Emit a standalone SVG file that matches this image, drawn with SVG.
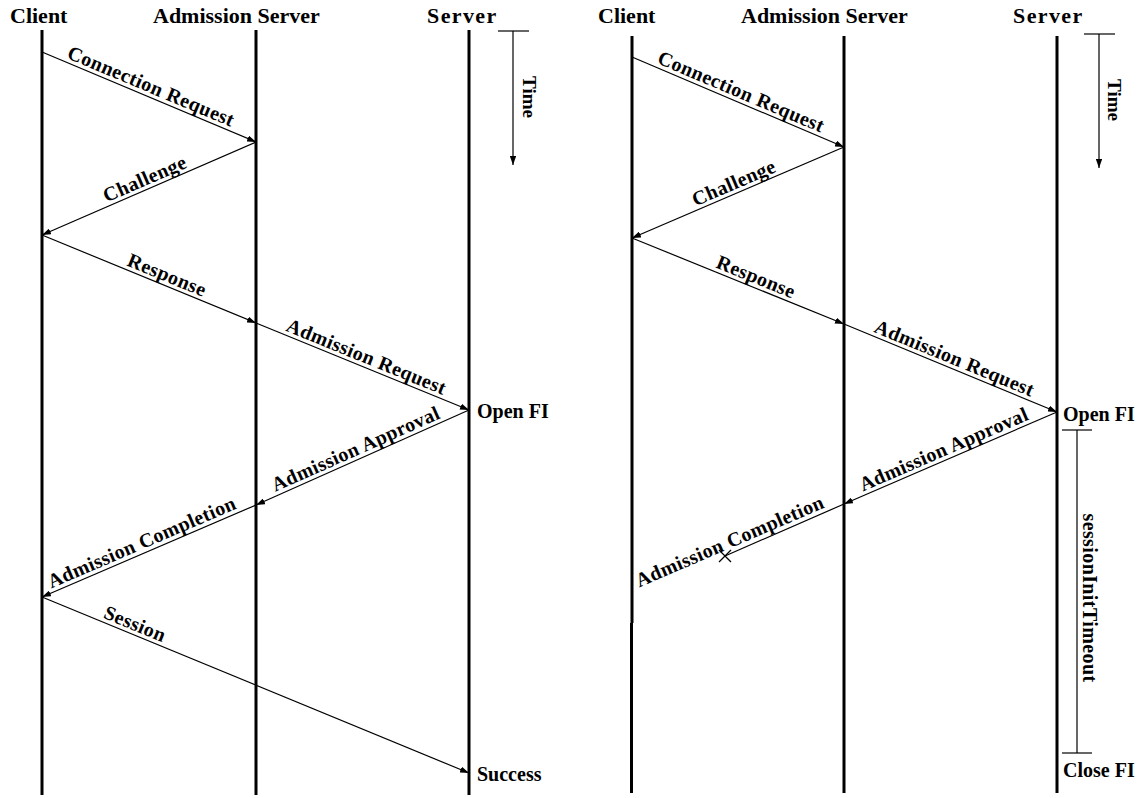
<svg xmlns="http://www.w3.org/2000/svg" width="1145" height="798" viewBox="0 0 1145 798">
  <style>
    .title { font-family: "Liberation Serif", "Times New Roman", serif; font-weight: bold; font-size: 22px; fill: #000; }
    .wide { letter-spacing: 1.4px; }
    .lbl { font-family: "Liberation Serif", "Times New Roman", serif; font-weight: bold; font-size: 20px; letter-spacing: 0.4px; fill: #000; }
    .end { font-family: "Liberation Serif", "Times New Roman", serif; font-weight: bold; font-size: 20px; fill: #000; }
    .note { font-family: "Liberation Serif", "Times New Roman", serif; font-weight: bold; font-size: 19px; fill: #000; }
    .life { stroke: #000; stroke-width: 3; fill: none; }
    .msg { stroke: #000; stroke-width: 1.2; fill: none; }
    .thin { stroke: #000; stroke-width: 1.2; fill: none; }
  </style>
  <defs>
    <marker id="arrow" viewBox="0 0 10 7" refX="10" refY="3.5" markerWidth="9" markerHeight="6.3" markerUnits="userSpaceOnUse" orient="auto">
      <path d="M0,0 L10,3.5 L0,7 z" fill="#000"/>
    </marker>
  </defs>
  <rect width="1145" height="798" fill="#fff"/>

  <!-- ===== Left scenario: successful admission ===== -->
  <g id="left-client">
    <text class="title" x="10" y="23">Client</text>
    <line class="life" x1="42" y1="30" x2="42" y2="795"/>
  </g>
  <g id="left-admission-server">
    <text class="title" x="153" y="23">Admission Server</text>
    <line class="life" x1="256" y1="30" x2="256" y2="795"/>
  </g>
  <g id="left-server">
    <text class="title wide" x="427" y="23">Server</text>
    <line class="life" x1="469" y1="30" x2="469" y2="795"/>
    <text class="end" x="477" y="418">Open FI</text>
    <text class="end" x="477" y="781">Success</text>
  </g>
  <g id="left-time">
    <line class="thin" x1="498" y1="31" x2="529" y2="31"/>
    <line class="thin" x1="513" y1="31" x2="513" y2="165" marker-end="url(#arrow)"/>
    <text class="note" transform="translate(523,97) rotate(90)" text-anchor="middle">Time</text>
  </g>

  <g id="left-messages">
    <line class="msg" x1="42" y1="52" x2="256" y2="142" marker-end="url(#arrow)"/>
    <text class="lbl" transform="translate(147,96) rotate(22.8)" text-anchor="middle" y="-4">Connection Request</text>

    <line class="msg" x1="256" y1="142" x2="42" y2="235" marker-end="url(#arrow)"/>
    <text class="lbl" transform="translate(149,188.5) rotate(-23.5)" text-anchor="middle" y="-4">Challenge</text>

    <line class="msg" x1="42" y1="235" x2="256" y2="323" marker-end="url(#arrow)"/>
    <text class="lbl" transform="translate(163,284.8) rotate(22.4)" text-anchor="middle" y="-4">Response</text>

    <line class="msg" x1="256" y1="323" x2="469" y2="410" marker-end="url(#arrow)"/>
    <text class="lbl" transform="translate(362.5,366.5) rotate(22.2)" text-anchor="middle" y="-4">Admission Request</text>

    <line class="msg" x1="469" y1="410" x2="256" y2="505" marker-end="url(#arrow)"/>
    <text class="lbl" transform="translate(360,458.5) rotate(-24)" text-anchor="middle" y="-4">Admission Approval</text>

    <line class="msg" x1="256" y1="505" x2="42" y2="597" marker-end="url(#arrow)"/>
    <text class="lbl" transform="translate(146,552) rotate(-23.3)" text-anchor="middle" y="-4">Admission Completion</text>

    <line class="msg" x1="42" y1="597" x2="469" y2="773" marker-end="url(#arrow)"/>
    <text class="lbl" transform="translate(131,633.7) rotate(22.4)" text-anchor="middle" y="-4">Session</text>
  </g>

  <!-- ===== Right scenario: completion lost, timeout ===== -->
  <g id="right-client">
    <text class="title" x="598" y="23">Client</text>
    <line class="life" x1="632" y1="36" x2="632" y2="623"/>
    <line class="life" x1="631.5" y1="623" x2="631.5" y2="793" stroke-width="3.5"/>
  </g>
  <g id="right-admission-server">
    <text class="title" x="741" y="23">Admission Server</text>
    <line class="life" x1="844" y1="36" x2="844" y2="793"/>
  </g>
  <g id="right-server">
    <text class="title wide" x="1013" y="23">Server</text>
    <line class="life" x1="1057" y1="36" x2="1057" y2="793"/>
    <text class="end" x="1063" y="421">Open FI</text>
    <text class="end" x="1063" y="777">Close FI</text>
  </g>
  <g id="right-time">
    <line class="thin" x1="1084" y1="34" x2="1115" y2="34"/>
    <line class="thin" x1="1099" y1="34" x2="1099" y2="168" marker-end="url(#arrow)"/>
    <text class="note" transform="translate(1108,100) rotate(90)" text-anchor="middle">Time</text>
  </g>
  <g id="right-timeout">
    <line class="thin" x1="1062" y1="430" x2="1092" y2="430"/>
    <line class="thin" x1="1077" y1="430" x2="1077" y2="753"/>
    <line class="thin" x1="1062" y1="753" x2="1092" y2="753"/>
    <text class="lbl" transform="translate(1083,598) rotate(90)" text-anchor="middle">sessionInitTimeout</text>
  </g>

  <g id="right-messages">
    <line class="msg" x1="632" y1="57" x2="844" y2="147" marker-end="url(#arrow)"/>
    <text class="lbl" transform="translate(737,101.5) rotate(23)" text-anchor="middle" y="-4">Connection Request</text>

    <line class="msg" x1="844" y1="147" x2="632" y2="238" marker-end="url(#arrow)"/>
    <text class="lbl" transform="translate(738,192.5) rotate(-23.2)" text-anchor="middle" y="-4">Challenge</text>

    <line class="msg" x1="632" y1="238" x2="844" y2="324" marker-end="url(#arrow)"/>
    <text class="lbl" transform="translate(752,286.7) rotate(22.1)" text-anchor="middle" y="-4">Response</text>

    <line class="msg" x1="844" y1="324" x2="1057" y2="412" marker-end="url(#arrow)"/>
    <text class="lbl" transform="translate(950.5,368) rotate(22.4)" text-anchor="middle" y="-4">Admission Request</text>

    <line class="msg" x1="1057" y1="412" x2="844" y2="504" marker-end="url(#arrow)"/>
    <text class="lbl" transform="translate(948,459) rotate(-23.4)" text-anchor="middle" y="-4">Admission Approval</text>

    <line class="msg" x1="844" y1="504" x2="725" y2="556"/>
    <text class="lbl" transform="translate(734,551) rotate(-23.3)" text-anchor="middle" y="-4">Admission Completion</text>
    <!-- lost message -->
    <line class="msg" x1="719" y1="550" x2="731" y2="562"/>
    <line class="msg" x1="731" y1="550" x2="719" y2="562"/>
  </g>
</svg>
